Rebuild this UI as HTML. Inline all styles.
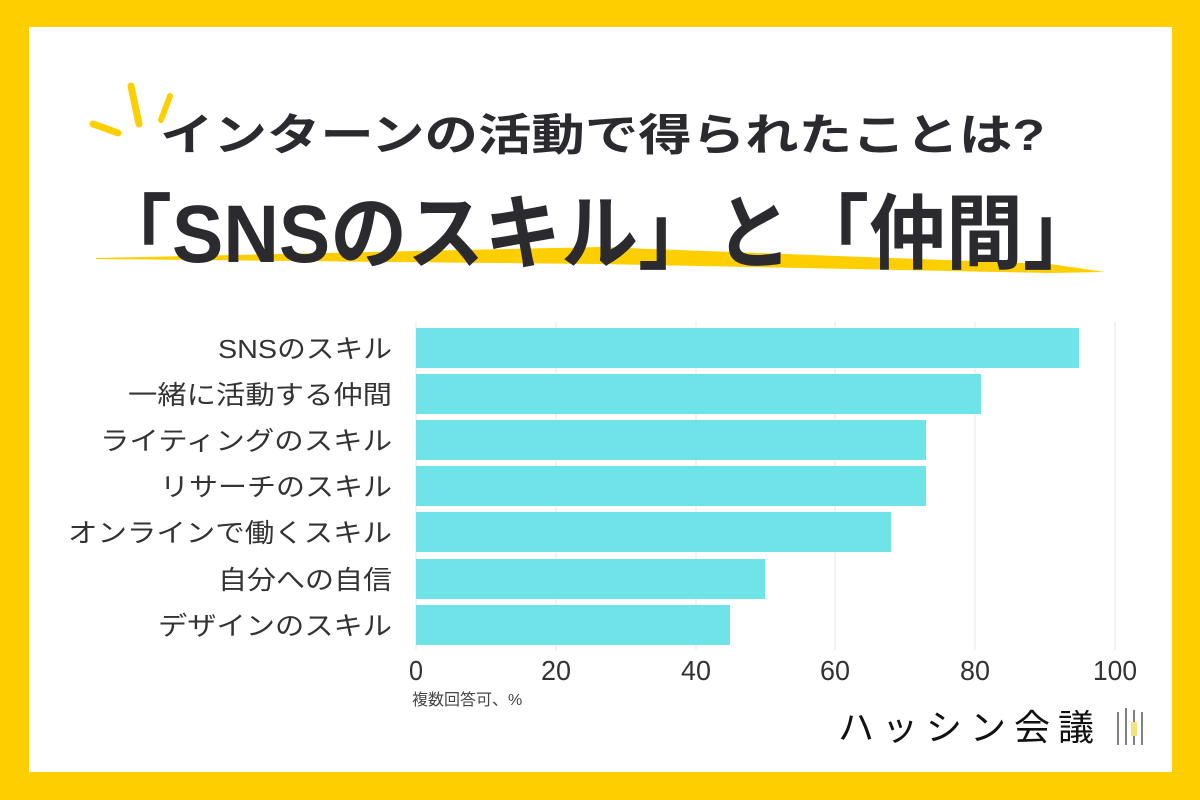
<!DOCTYPE html>
<html><head><meta charset="utf-8"><style>
html,body{margin:0;padding:0;width:1200px;height:800px;overflow:hidden;background:#fecf00}
svg{display:block}
text{font-family:"Liberation Sans","Noto Sans CJK JP",sans-serif}
</style></head><body>
<svg width="1200" height="800" viewBox="0 0 1200 800" xmlns="http://www.w3.org/2000/svg">
<rect x="0" y="0" width="1200" height="800" fill="#fecf00"/>
<rect x="29" y="27" width="1143" height="745" fill="#ffffff"/>
<g stroke="#fecf00" stroke-linecap="round" fill="none">
<line x1="93" y1="124" x2="118" y2="133" stroke-width="7"/>
<line x1="131" y1="86" x2="139" y2="124" stroke-width="7"/>
<line x1="170" y1="96" x2="161" y2="120" stroke-width="6"/>
</g>
<path d="M96 258 L600 247 L1050 264 L1105 272 L1050 273 L600 264 L96 259 Z" fill="#fecf00"/>
<text x="160" y="150" font-size="44" font-weight="bold" fill="#2b2a2e" textLength="885" lengthAdjust="spacingAndGlyphs">インターンの活動で得られたことは?</text>
<text x="95" y="262" font-size="82" font-weight="bold" fill="#2b2a2e" textLength="1005" lengthAdjust="spacingAndGlyphs">「SNSのスキル」と「仲間」</text>
<g stroke="#e6e6e6" stroke-width="1">
<line x1="416" y1="322" x2="416" y2="650"/>
<line x1="556" y1="322" x2="556" y2="650"/>
<line x1="696" y1="322" x2="696" y2="650"/>
<line x1="835" y1="322" x2="835" y2="650"/>
<line x1="975" y1="322" x2="975" y2="650"/>
<line x1="1115" y1="322" x2="1115" y2="650"/>
</g>
<g fill="#6ee4e8">
<rect x="416" y="328" width="663" height="40"/>
<rect x="416" y="374" width="565" height="40"/>
<rect x="416" y="420" width="510" height="40"/>
<rect x="416" y="466" width="510" height="40"/>
<rect x="416" y="512" width="475" height="40"/>
<rect x="416" y="559" width="349" height="40"/>
<rect x="416" y="605" width="314" height="40"/>
</g>
<g font-size="26" fill="#333" lengthAdjust="spacingAndGlyphs">
<text x="218" y="358" textLength="174" lengthAdjust="spacingAndGlyphs">SNSのスキル</text>
<text x="128" y="404" textLength="264" lengthAdjust="spacingAndGlyphs">一緒に活動する仲間</text>
<text x="100" y="450" textLength="292" lengthAdjust="spacingAndGlyphs">ライティングのスキル</text>
<text x="160" y="496" textLength="232" lengthAdjust="spacingAndGlyphs">リサーチのスキル</text>
<text x="68" y="542" textLength="324" lengthAdjust="spacingAndGlyphs">オンラインで働くスキル</text>
<text x="218" y="589" textLength="174" lengthAdjust="spacingAndGlyphs">自分への自信</text>
<text x="158" y="635" textLength="234" lengthAdjust="spacingAndGlyphs">デザインのスキル</text>
</g>
<g font-size="28" fill="#333" text-anchor="middle">
<text x="416" y="680" textLength="14" lengthAdjust="spacingAndGlyphs">0</text>
<text x="556" y="680" textLength="30" lengthAdjust="spacingAndGlyphs">20</text>
<text x="696" y="680" textLength="30" lengthAdjust="spacingAndGlyphs">40</text>
<text x="835" y="680" textLength="30" lengthAdjust="spacingAndGlyphs">60</text>
<text x="975" y="680" textLength="30" lengthAdjust="spacingAndGlyphs">80</text>
<text x="1115" y="680" textLength="44" lengthAdjust="spacingAndGlyphs">100</text>
</g>
<text x="412" y="705" font-size="16" fill="#444">複数回答可、%</text>
<text x="838" y="740" font-size="36" fill="#111" letter-spacing="8">ハッシン会議</text>
<g stroke="#555" stroke-width="1.5" fill="none">
<line x1="1118" y1="712" x2="1118" y2="745"/><line x1="1126" y1="708" x2="1126" y2="745"/>
<line x1="1134" y1="710" x2="1134" y2="745"/><line x1="1142" y1="712" x2="1142" y2="745"/>
</g>
<rect x="1131" y="722" width="6" height="14" fill="#f4e27a"/>
</svg>
</body></html>
